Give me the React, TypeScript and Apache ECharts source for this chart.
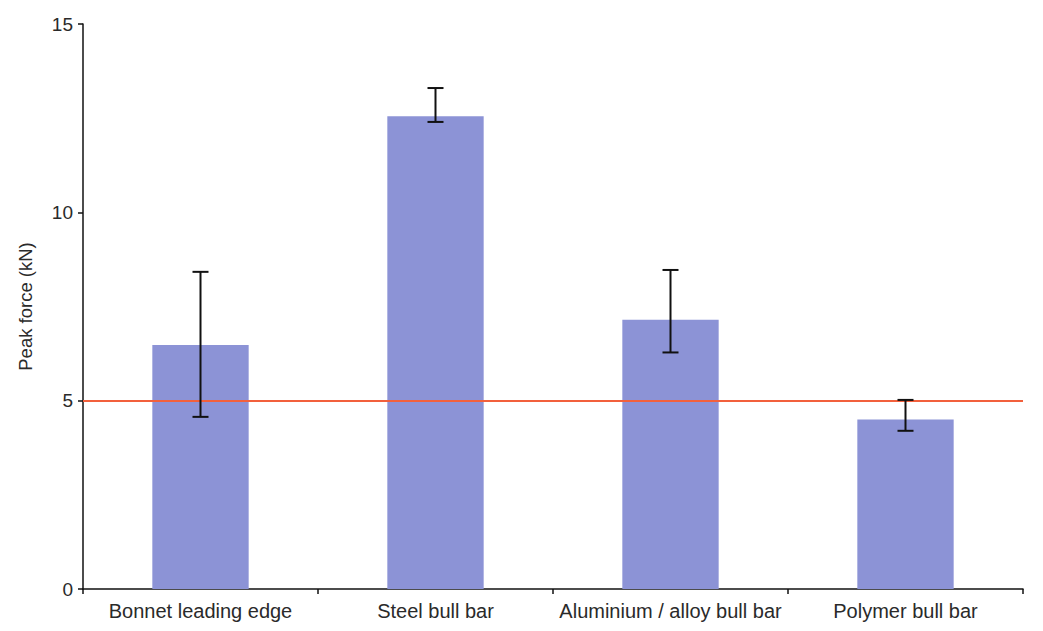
import React, { useEffect, useRef } from "react";
import * as echarts from "echarts";

const categories = [
  "Bonnet leading edge",
  "Steel bull bar",
  "Aluminium / alloy bull bar",
  "Polymer bull bar",
];
const peakForce = [6.48, 12.55, 7.15, 4.5];
const errorLow = [4.57, 12.4, 6.28, 4.2];
const errorHigh = [8.42, 13.3, 8.47, 5.02];
const thresholdValue = 5;
const yTicks = [0, 5, 10, 15];

const FONT = "'Liberation Sans', Arial, Helvetica, sans-serif";

export default function App() {
  const ref = useRef<HTMLDivElement>(null);

  useEffect(() => {
    if (!ref.current) return;
    const chart = echarts.init(ref.current, undefined, { renderer: "svg" });

    const errorData = categories.map((_, i) => [i, errorLow[i], errorHigh[i]]);

    chart.setOption({
      animation: false,
      backgroundColor: "#ffffff",
      grid: { left: 68, right: 12, top: 16, bottom: 34, containLabel: false },
      xAxis: {
        type: "category",
        data: categories,
        boundaryGap: true,
        axisLine: { lineStyle: { color: "#111", width: 1.5 } },
        axisTick: { show: true, length: 5, lineStyle: { color: "#111", width: 1.5 } },
        axisLabel: {
          color: "#2a2a2a",
          fontFamily: FONT,
          fontSize: 20,
          margin: 12,
          interval: 0,
        },
      },
      yAxis: {
        type: "value",
        min: yTicks[0],
        max: yTicks[yTicks.length - 1],
        interval: 5,
        name: "Peak force (kN)",
        nameLocation: "middle",
        nameGap: 48,
        nameRotate: 90,
        nameTextStyle: { color: "#2a2a2a", fontFamily: FONT, fontSize: 18.5 },
        axisLine: { show: true, lineStyle: { color: "#111", width: 1.5 } },
        axisTick: { show: true, length: 5, lineStyle: { color: "#111", width: 1.5 } },
        axisLabel: { color: "#2a2a2a", fontFamily: FONT, fontSize: 19, margin: 10 },
        splitLine: { show: false },
      },
      series: [
        {
          type: "bar",
          data: peakForce,
          barWidth: "41%",
          itemStyle: { color: "#8c93d6" },
          markLine: {
            silent: true,
            symbol: "none",
            label: { show: false },
            lineStyle: { color: "#f2603c", width: 2, type: "solid" },
            data: [{ yAxis: thresholdValue }],
          },
          z: 2,
        },
        {
          type: "custom",
          data: errorData,
          z: 5,
          renderItem: (params: any, api: any) => {
            const x = api.value(0);
            const lo = api.coord([x, api.value(1)]);
            const hi = api.coord([x, api.value(2)]);
            const half = 8;
            const style = { stroke: "#111", lineWidth: 2 };
            return {
              type: "group",
              children: [
                { type: "line", shape: { x1: hi[0], y1: hi[1], x2: lo[0], y2: lo[1] }, style },
                { type: "line", shape: { x1: hi[0] - half, y1: hi[1], x2: hi[0] + half, y2: hi[1] }, style },
                { type: "line", shape: { x1: lo[0] - half, y1: lo[1], x2: lo[0] + half, y2: lo[1] }, style },
              ],
            };
          },
        },
      ],
    });

    // Extend the baseline and the threshold line a little past the last category boundary
    const zeroPt = chart.convertToPixel({ gridIndex: 0 }, [categories.length - 0.5, 0]) as number[];
    const threshPt = chart.convertToPixel({ gridIndex: 0 }, [categories.length - 0.5, thresholdValue]) as number[];
    const rightEdge = zeroPt[0] + 118.5;
    chart.setOption({
      graphic: [
        {
          type: "line",
          shape: { x1: rightEdge, y1: zeroPt[1], x2: rightEdge + 17, y2: zeroPt[1] },
          style: { stroke: "#111", lineWidth: 1.5 },
          silent: true,
        },
        {
          type: "line",
          shape: { x1: rightEdge, y1: threshPt[1], x2: rightEdge + 6, y2: threshPt[1] },
          style: { stroke: "#f2603c", lineWidth: 2 },
          silent: true,
        },
      ],
    });

    return () => chart.dispose();
  }, []);

  return <div ref={ref} style={{ width: 1027, height: 615 }} />;
}
